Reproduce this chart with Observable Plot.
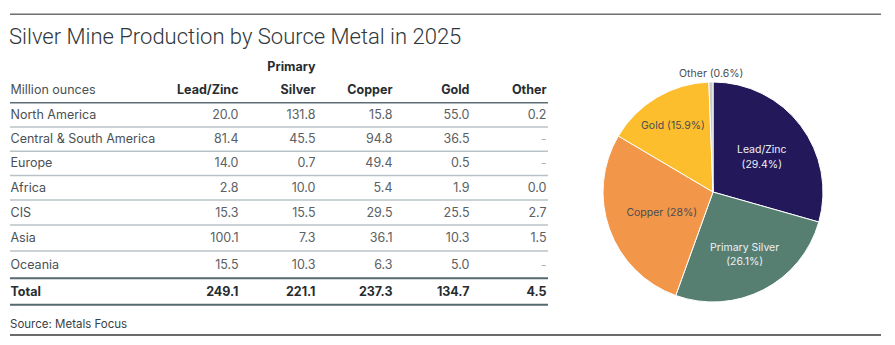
<!DOCTYPE html>
<html>
<head>
<meta charset="utf-8">
<script src="https://cdn.jsdelivr.net/npm/d3@7"></script>
<script src="https://cdn.jsdelivr.net/npm/@observablehq/plot@0.6"></script>
<style>
  html, body { margin: 0; padding: 0; background: #ffffff; }
  #page { position: relative; width: 895px; height: 345px; overflow: hidden; font-family: Roboto, "Noto Sans", sans-serif; }
  .hrule { position: absolute; left: 10px; width: 871px; }
  #topRule { top: 13px; height: 1px; background: #b4b4b4; border-bottom: 1.5px solid #707070; }
  #bottomRule { top: 334px; height: 1.5px; background: #6b6b6b; }
  #title { position: absolute; left: 9px; top: 21px; font-size: 22px; font-weight: 300; color: #30373b; white-space: nowrap; line-height: 32px; }
  #tableChart { position: absolute; left: 0; top: 50px; }
  #pieChart { position: absolute; left: 563px; top: 42px; }
  #source { position: absolute; left: 10px; top: 317px; font-size: 11.5px; color: #3a4044; line-height: 14px; white-space: nowrap; font-family: Inter, Roboto, sans-serif; }
</style>
</head>
<body>
<div id="page">
  <div id="topRule" class="hrule"></div>
  <div id="title">Silver Mine Production by Source Metal in 2025</div>
  <div id="tableChart"></div>
  <div id="pieChart"></div>
  <div id="source">Source: Metals Focus</div>
  <div id="bottomRule" class="hrule"></div>
</div>
<script>
// ---------------- data ----------------
const unitLabel = "Million ounces";
const regions = ["North America", "Central & South America", "Europe", "Africa", "CIS", "Asia", "Oceania"];
const columns = ["Lead/Zinc", "Primary Silver", "Copper", "Gold", "Other"];
const headerTop = ["", "Primary", "", "", ""];
const headerBottom = ["Lead/Zinc", "Silver", "Copper", "Gold", "Other"];
const leadZinc = [20.0, 81.4, 14.0, 2.8, 15.3, 100.1, 15.5];
const primarySilver = [131.8, 45.5, 0.7, 10.0, 15.5, 7.3, 10.3];
const copper = [15.8, 94.8, 49.4, 5.4, 29.5, 36.1, 6.3];
const gold = [55.0, 36.5, 0.5, 1.9, 25.5, 10.3, 5.0];
const other = [0.2, null, null, 0.0, 2.7, 1.5, null];
const totalLabel = "Total";
const totals = [249.1, 221.1, 237.3, 134.7, 4.5];

const pieCategories = ["Lead/Zinc", "Primary Silver", "Copper", "Gold", "Other"];
const pieShares = [29.4, 26.1, 28, 15.9, 0.6];

// ---------------- styles / layout ----------------
const pieColors = ["#23185a", "#567f72", "#f2964a", "#fdbe2d", "#c9c9c9"];
const labelRadius = [0.55, 0.62, 0.5, 0.72, 1.09];
const labelTwoLines = [true, true, false, false, false];
const labelLight = [true, true, false, false, false];
const tableFont = "Inter, Roboto, 'Noto Sans', sans-serif";
// row boundaries of the table (two header lines, seven regions, total), in svg pixels
const rowEdges = [6, 26, 52.3, 76.5, 100.7, 125, 149.5, 174.5, 200.5, 227.8, 254.3];

const seriesByColumn = [leadZinc, primarySilver, copper, gold, other];

// ---------------- table ----------------
const cells = [];
regions.forEach((r, i) => {
  columns.forEach((c, j) => {
    cells.push({row: i + 2, col: c, value: seriesByColumn[j][i]});
  });
});
const totalCells = columns.map((c, j) => ({row: 9, col: c, value: totals[j]}));
const headers = columns.map((c, j) => ({col: c, top: headerTop[j], bottom: headerBottom[j]}));
const rowLabels = regions.map((r, i) => ({row: i + 2, label: r}));

const fmt = v => v == null ? "-" : v.toFixed(1);

const tableChart = Plot.plot({
  width: 560,
  height: 260,
  marginLeft: 10,
  marginRight: 12,
  marginTop: 0,
  marginBottom: 0,
  x: {type: "point", domain: columns, range: [237.5, 546.5], padding: 0, align: 0.5, axis: null},
  y: {type: "linear", domain: rowEdges.map((_, i) => i), range: rowEdges, axis: null},
  style: {fontFamily: tableFont, background: "transparent", overflow: "visible"},
  marks: [
    Plot.ruleY([3, 4, 5, 6, 7, 8], {stroke: "#b9c3c7", strokeWidth: 1.5}),
    Plot.ruleY([2], {stroke: "#5f6e74", strokeWidth: 1.5}),
    Plot.ruleY([9, 10], {stroke: "#55696f", strokeWidth: 2}),
    Plot.text(headers.filter(d => d.top), {x: "col", y: () => 0.5, text: "top", textAnchor: "end", fontSize: 12.5, fontWeight: 700, fill: "#272c30"}),
    Plot.text(headers, {x: "col", y: () => 1.5, text: "bottom", textAnchor: "end", fontSize: 12.5, fontWeight: 700, fill: "#272c30"}),
    Plot.text([unitLabel], {y: () => 1.5, text: d => d, frameAnchor: "left", textAnchor: "start", fontSize: 12.5, fill: "#4a5155"}),
    Plot.text(rowLabels, {y: d => d.row + 0.5, text: "label", frameAnchor: "left", textAnchor: "start", fontSize: 12.5, fill: "#4a5155"}),
    Plot.text(cells, {x: "col", y: d => d.row + 0.5, text: d => fmt(d.value), textAnchor: "end", fontSize: 12.5, fill: d => d.value == null ? "#a9afb2" : "#5a6064"}),
    Plot.text([totalLabel], {y: () => 9.5, text: d => d, frameAnchor: "left", textAnchor: "start", fontSize: 12.5, fontWeight: 700, fill: "#272c30"}),
    Plot.text(totalCells, {x: "col", y: d => d.row + 0.5, text: d => fmt(d.value), textAnchor: "end", fontSize: 12.5, fontWeight: 700, fill: "#272c30"})
  ]
});
document.getElementById("tableChart").append(tableChart);

// ---------------- pie ----------------
const pieData = pieCategories.map((c, i) => ({cat: c, share: pieShares[i]}));
const pieArcs = d3.pie().sort(null).value(d => d.share)(pieData);
const labelData = pieArcs.map((a, i) => {
  const mid = (a.startAngle + a.endAngle) / 2;
  const k = labelRadius[i];
  const pct = `(${a.data.share}%)`;
  return {
    cat: a.data.cat,
    lx: k * Math.sin(mid),
    ly: k * Math.cos(mid),
    label: labelTwoLines[i] ? `${a.data.cat}\n${pct}` : `${a.data.cat} ${pct}`,
    light: labelLight[i]
  };
});

const pieChart = Plot.plot({
  width: 300,
  height: 300,
  margin: 0,
  x: {domain: [-1, 1], range: [40, 260], axis: null},
  y: {domain: [-1, 1], range: [260, 40], axis: null},
  color: {domain: pieCategories, range: pieColors},
  style: {fontFamily: tableFont, background: "transparent", overflow: "visible"},
  marks: [
    Plot.dot(pieData, {
      x: () => 0,
      y: () => 0,
      fill: "cat",
      render(index, scales, values) {
        const cx = values.x[index[0]];
        const cy = values.y[index[0]];
        const r = scales.x(1) - scales.x(0);
        const arcGen = d3.arc().innerRadius(0).outerRadius(r);
        const arcs = d3.pie().sort(null).value(i => pieData[i].share)(Array.from(index));
        const g = d3.create("svg:g").attr("transform", `translate(${cx},${cy})`);
        g.selectAll("path")
          .data(arcs)
          .join("path")
          .attr("d", arcGen)
          .attr("fill", a => values.fill[a.data])
          .attr("stroke", "#ffffff")
          .attr("stroke-width", 1)
          .attr("stroke-linejoin", "round");
        return g.node();
      }
    }),
    Plot.text(labelData.filter(d => d.light), {x: "lx", y: "ly", text: "label", fill: "#eef0f4", fontSize: 10.5, lineHeight: 1.38}),
    Plot.text(labelData.filter(d => !d.light), {x: "lx", y: "ly", text: "label", fill: "#4a4d50", fontSize: 10.5, lineHeight: 1.38})
  ]
});
document.getElementById("pieChart").append(pieChart);
</script>
</body>
</html>
